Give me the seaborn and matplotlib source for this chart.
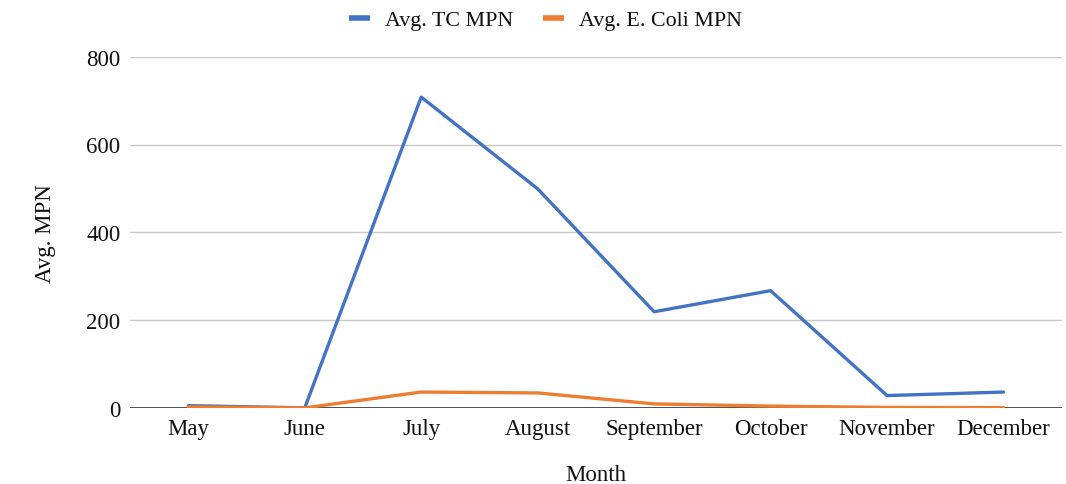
import seaborn as sns
import matplotlib.pyplot as plt
import pandas as pd

months = ['May', 'June', 'July', 'August', 'September', 'October', 'November', 'December']
tc_mpn = [5, 0, 708, 499, 219, 267, 28, 36]
ecoli_mpn = [2, 0, 36, 34, 9, 4, 1, 0.5]

sns.set_style("white")
plt.rcParams['font.family'] = ['Liberation Serif', 'DejaVu Serif']

df = pd.DataFrame({
    'Month': months * 2,
    'MPN': tc_mpn + ecoli_mpn,
    'Series': ['Avg. TC MPN'] * len(months) + ['Avg. E. Coli MPN'] * len(months),
})

fig = plt.figure(figsize=(10.66, 4.85), dpi=100)
ax = fig.add_axes([0.122, 0.157, 0.874, 0.724])

sns.lineplot(data=df, x='Month', y='MPN', hue='Series', sort=False,
             palette=['#4472c4', '#ed7d31'], linewidth=2.4, ax=ax, legend=False)

ax.set_ylim(0, 800)
ax.set_yticks([0, 200, 400, 600, 800])
ax.set_xlim(-0.5, len(months) - 0.5)
ax.grid(axis='y', color='#c8c8c8', linewidth=1)
ax.axhline(0, color='#333333', linewidth=1.2, zorder=1)
for s in ax.spines.values():
    s.set_visible(False)
ax.tick_params(axis='both', length=0, labelsize=16.5, colors='#111111', pad=7)
ax.set_xlabel('Month', fontsize=16.5, labelpad=18, color='#111111')
ax.set_ylabel('Avg. MPN', fontsize=16.5, labelpad=22, color='#111111')

handles = [plt.Line2D([], [], color='#4472c4', linewidth=4, solid_capstyle='butt'),
           plt.Line2D([], [], color='#ed7d31', linewidth=4, solid_capstyle='butt')]
fig.legend(handles, ['Avg. TC MPN', 'Avg. E. Coli MPN'], loc='upper center',
           bbox_to_anchor=(0.512, 1.018), ncol=2, frameon=False, fontsize=15.8,
           handlelength=0.95, handletextpad=0.68, columnspacing=1.37,
           labelcolor='#111111')

fig.savefig('out.png', dpi=100)
